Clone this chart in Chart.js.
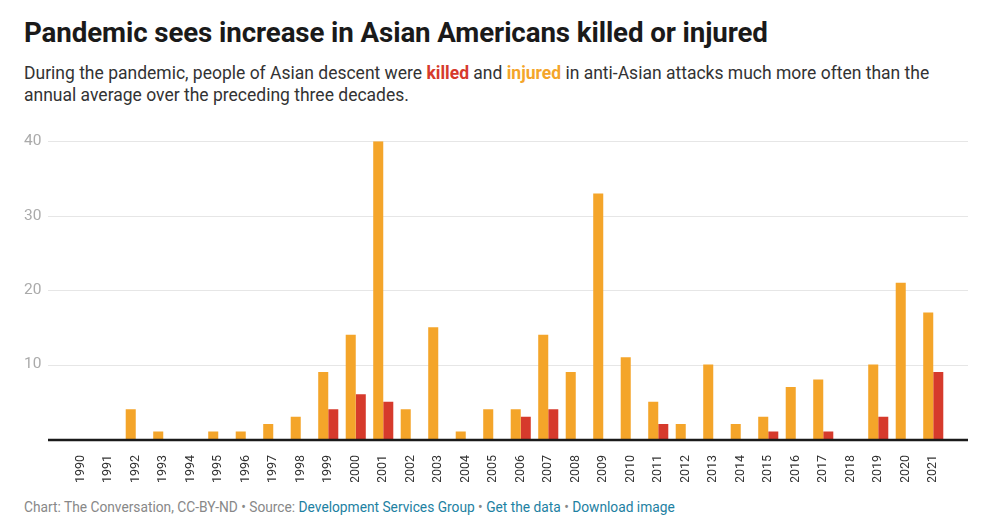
<!DOCTYPE html>
<html>
<head>
<meta charset="utf-8">
<script src="https://cdn.jsdelivr.net/npm/chart.js@4"></script>
<style>
  body { margin: 0; background: #fff; font-family: Roboto, sans-serif; width: 982px; height: 525px; overflow: hidden; position: relative; }
  h1 { position: absolute; left: 24px; top: 16px; margin: 0; font-size: 27.7px; font-weight: 700; color: #1a1a1a; letter-spacing: -0.1px; }
  .sub { position: absolute; left: 24px; top: 62px; width: 940px; margin: 0; font-size: 17.5px; line-height: 22px; color: #333; }
  .sub .k { color: #d63a2c; font-weight: 700; }
  .sub .i { color: #f4a52a; font-weight: 700; }
  .wrap { position: absolute; left: 0; top: 120px; width: 982px; height: 362px; }
  .foot { position: absolute; left: 24px; top: 499px; font-size: 13.75px; color: #888; }
  .foot a { color: #1d81a2; text-decoration: none; }
</style>
</head>
<body>
<h1>Pandemic sees increase in Asian Americans killed or injured</h1>
<p class="sub">During the pandemic, people of Asian descent were <span class="k">killed</span> and <span class="i">injured</span> in anti-Asian attacks much more often than the annual average over the preceding three decades.</p>
<div class="wrap"><canvas id="chart"></canvas></div>
<div class="foot">Chart: The Conversation, CC-BY-ND • Source: <a href="#">Development Services Group</a> • <a href="#">Get the data</a> • <a href="#">Download image</a></div>
<script>
const years = ["1990", "1991", "1992", "1993", "1994", "1995", "1996", "1997", "1998", "1999",
    "2000", "2001", "2002", "2003", "2004", "2005", "2006", "2007", "2008", "2009",
    "2010", "2011", "2012", "2013", "2014", "2015", "2016", "2017", "2018", "2019",
    "2020", "2021"];
const injured = [0, 0, 4, 1, 0, 1, 1, 2, 3, 9,
    14, 40, 4, 15, 1, 4, 4, 14, 9, 33,
    11, 5, 2, 10, 2, 3, 7, 8, 0, 10,
    21, 17];
const killed = [0, 0, 0, 0, 0, 0, 0, 0, 0, 4,
    6, 5, 0, 0, 0, 0, 3, 4, 0, 0,
    0, 2, 0, 0, 0, 1, 0, 1, 0, 3,
    0, 9];
const yTicks = [10, 20, 30, 40];

// grid lines reach past the bars on both sides
const gridLeft = 48, gridRight = 968;
const fullGrid = {
    id: "fullGrid",
    beforeDatasetsDraw(chart) {
        const ctx = chart.ctx, y = chart.scales.y;
        ctx.save();
        ctx.strokeStyle = "#e6e6e6";
        ctx.lineWidth = 1;
        yTicks.forEach(v => {
            const py = Math.round(y.getPixelForValue(v)) + 0.5;
            ctx.beginPath();
            ctx.moveTo(gridLeft, py);
            ctx.lineTo(gridRight, py);
            ctx.stroke();
        });
        ctx.restore();
    },
    afterDatasetsDraw(chart) {
        const ctx = chart.ctx, y = chart.scales.y;
        const py = y.getPixelForValue(0) + 1;
        ctx.save();
        ctx.strokeStyle = "#1a1a1a";
        ctx.lineWidth = 2.5;
        ctx.beginPath();
        ctx.moveTo(gridLeft, py);
        ctx.lineTo(gridRight, py);
        ctx.stroke();
        ctx.restore();
    }
};

new Chart(document.getElementById("chart"), {
    type: "bar",
    data: {
        labels: years,
        datasets: [
            { label: "injured", data: injured, backgroundColor: "#f4a52a" },
            { label: "killed", data: killed, backgroundColor: "#d63a2c" }
        ]
    },
    options: {
        responsive: true,
        maintainAspectRatio: false,
        animation: false,
        categoryPercentage: 0.73,
        barPercentage: 1,
        layout: { padding: { top: 0, right: 35, left: 24, bottom: 0 } },
        plugins: { legend: { display: false }, tooltip: { enabled: false } },
        scales: {
            x: {
                grid: { display: false },
                border: { display: false },
                ticks: {
                    color: "#333",
                    font: { family: "Roboto", size: 12.5 },
                    minRotation: 90,
                    maxRotation: 90,
                    autoSkip: false,
                    padding: 8
                },
                afterFit(scale) { scale.height = 43; }
            },
            y: {
                min: 0,
                max: 40,
                afterBuildTicks(scale) { scale.ticks = yTicks.map(v => ({ value: v })); },
                grid: { display: false },
                border: { display: false },
                ticks: {
                    color: "#aaa",
                    font: { family: "Roboto", size: 15.5 },
                    crossAlign: "far",
                    padding: 12
                },
                afterFit(scale) { scale.width = 43; }
            }
        }
    },
    plugins: [fullGrid]
});
</script>
</body>
</html>
